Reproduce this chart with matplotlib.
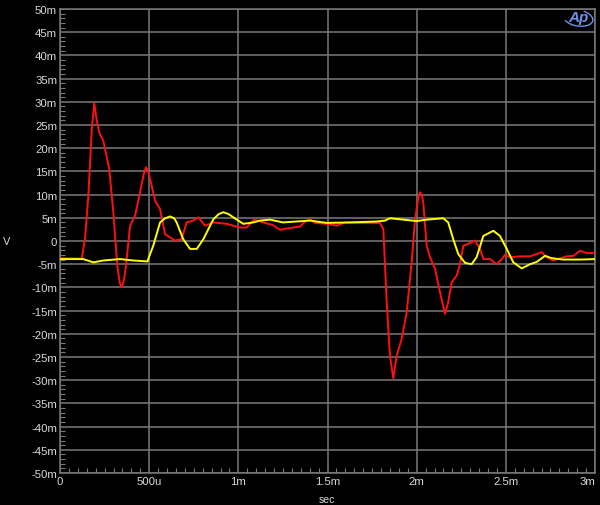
import matplotlib
matplotlib.use("Agg")
import matplotlib.pyplot as plt
from matplotlib.ticker import MultipleLocator, FixedLocator
from matplotlib.patches import Arc

# time in ms, voltage in mV
red_t = [0.0, 0.122, 0.140, 0.159, 0.178, 0.192, 0.206, 0.220, 0.243, 0.276,
         0.299, 0.321, 0.335, 0.346, 0.358, 0.370, 0.393, 0.421, 0.449, 0.470,
         0.482, 0.494, 0.505, 0.533, 0.561, 0.589, 0.617, 0.645, 0.682, 0.710,
         0.747, 0.776, 0.813, 0.860, 0.935, 1.009, 1.047, 1.082, 1.093, 1.140,
         1.196, 1.234, 1.271, 1.346, 1.374, 1.402, 1.430, 1.496, 1.552, 1.598,
         1.682, 1.794, 1.813, 1.832, 1.850, 1.869, 1.888, 1.916, 1.944, 1.972,
         1.991, 2.010, 2.019, 2.028, 2.037, 2.056, 2.075, 2.103, 2.131, 2.159,
         2.177, 2.196, 2.224, 2.243, 2.262, 2.290, 2.327, 2.355, 2.374, 2.411,
         2.449, 2.477, 2.495, 2.523, 2.579, 2.636, 2.701, 2.729, 2.766, 2.841,
         2.879, 2.916, 2.953, 3.0]
red_v = [-3.7, -3.8, 0.5, 9.8, 24.0, 29.7, 26.0, 23.4, 21.6, 15.5,
         6.2, -5.3, -9.0, -10.0, -8.5, -5.3, 3.3, 5.5, 10.5, 14.5,
         15.9, 15.0, 13.4, 8.7, 6.9, 1.5, 0.8, 0.1, 0.4, 4.0,
         4.4, 5.1, 3.3, 4.0, 3.7, 2.9, 2.9, 4.4, 4.6, 4.0,
         3.4, 2.4, 2.7, 3.1, 4.2, 4.7, 3.9, 3.7, 3.3, 4.0,
         3.9, 3.9, 2.6, -13.2, -24.7, -29.6, -24.7, -21.1, -15.4, -4.6,
         4.7, 9.5, 10.5, 10.0, 8.3, -1.0, -3.5, -6.0, -11.1, -15.7,
         -13.2, -8.9, -7.5, -5.0, -1.0, -0.6, 0.1, -1.7, -3.9, -3.9,
         -5.0, -3.9, -3.0, -3.5, -3.3, -3.3, -2.4, -3.5, -4.2, -3.3,
         -3.2, -2.1, -2.6, -2.6]

yel_t = [0.0, 0.131, 0.187, 0.243, 0.336, 0.411, 0.490, 0.523, 0.561, 0.590,
         0.617, 0.640, 0.654, 0.691, 0.729, 0.767, 0.804, 0.860, 0.890, 0.916,
         0.945, 0.972, 1.028, 1.084, 1.121, 1.178, 1.250, 1.402, 1.496, 1.626,
         1.776, 1.822, 1.850, 1.925, 2.000, 2.056, 2.149, 2.177, 2.205, 2.233,
         2.271, 2.308, 2.336, 2.374, 2.430, 2.467, 2.505, 2.542, 2.589, 2.636,
         2.673, 2.720, 2.757, 2.822, 2.916, 3.0]
yel_v = [-3.9, -3.9, -4.6, -4.2, -3.9, -4.2, -4.4, -1.0, 4.0, 4.9,
         5.3, 4.9, 4.0, 0.4, -1.7, -1.7, 0.4, 4.7, 5.8, 6.2,
         5.8, 5.1, 3.7, 4.0, 4.4, 4.6, 4.0, 4.4, 3.9, 4.0,
         4.2, 4.4, 4.9, 4.6, 4.3, 4.6, 4.9, 4.0, 0.4, -2.8,
         -4.7, -5.0, -3.5, 1.1, 2.2, 1.1, -1.7, -4.6, -5.9, -5.0,
         -4.5, -3.2, -3.7, -4.0, -4.0, -3.9]

x_ticks = [0, 0.5, 1.0, 1.5, 2.0, 2.5, 3.0]
x_labels = ["0", "500u", "1m", "1.5m", "2m", "2.5m", "3m"]
y_ticks = list(range(-50, 51, 5))
y_labels = [("0" if v == 0 else f"{v}m") for v in y_ticks]

plt.rcParams["font.family"] = ["Liberation Sans", "DejaVu Sans"]
grid_c = "#7a7a7a"
text_c = "#d8d8d8"

fig = plt.figure(figsize=(6.0, 5.06), dpi=100, facecolor="black")
ax = fig.add_axes([60 / 600, 32 / 506, 535 / 600, 464 / 506])
ax.set_facecolor("black")

ax.plot(red_t, red_v, color="#ff1010", lw=1.4, zorder=3)
ax.plot(yel_t, yel_v, color="#ffff00", lw=1.4, zorder=4)

ax.set_xlim(0, 3.0)
ax.set_ylim(-50, 50)
ax.xaxis.set_major_locator(FixedLocator(x_ticks))
ax.yaxis.set_major_locator(FixedLocator(y_ticks))
ax.set_xticklabels(x_labels)
ax.set_yticklabels(y_labels)
ax.xaxis.set_minor_locator(MultipleLocator(0.05))
ax.yaxis.set_minor_locator(MultipleLocator(1))

ax.grid(True, which="major", color=grid_c, lw=1.1)
ax.tick_params(which="major", length=0, colors=text_c, labelsize=8.2, pad=2)
ax.tick_params(which="minor", direction="in", length=3.5, width=0.8,
               color=grid_c, top=False, right=False)
for s in ax.spines.values():
    s.set_color(grid_c)
    s.set_linewidth(1.1)

lbls = ax.get_xticklabels()
lbls[-1].set_horizontalalignment("right")

fig.text(7 / 600, 1 - 242 / 506, "V", color=text_c, fontsize=8,
         ha="center", va="center")
fig.text(327 / 600, 1 - 500 / 506, "sec", color=text_c, fontsize=7.5,
         ha="center", va="center")

# Ap logo
fig.text(578 / 600, 1 - 18 / 506, "Ap", color="#6f8fe8", fontsize=11,
         fontstyle="italic", fontweight="bold", ha="center", va="center")
logo = Arc((578, 506 - 19), 30, 16, angle=-10, theta1=200, theta2=60,
           color="#6f8fe8", lw=1.0, transform=None)
fig.add_artist(logo)

fig.savefig("out.png", dpi=100, facecolor="black")
